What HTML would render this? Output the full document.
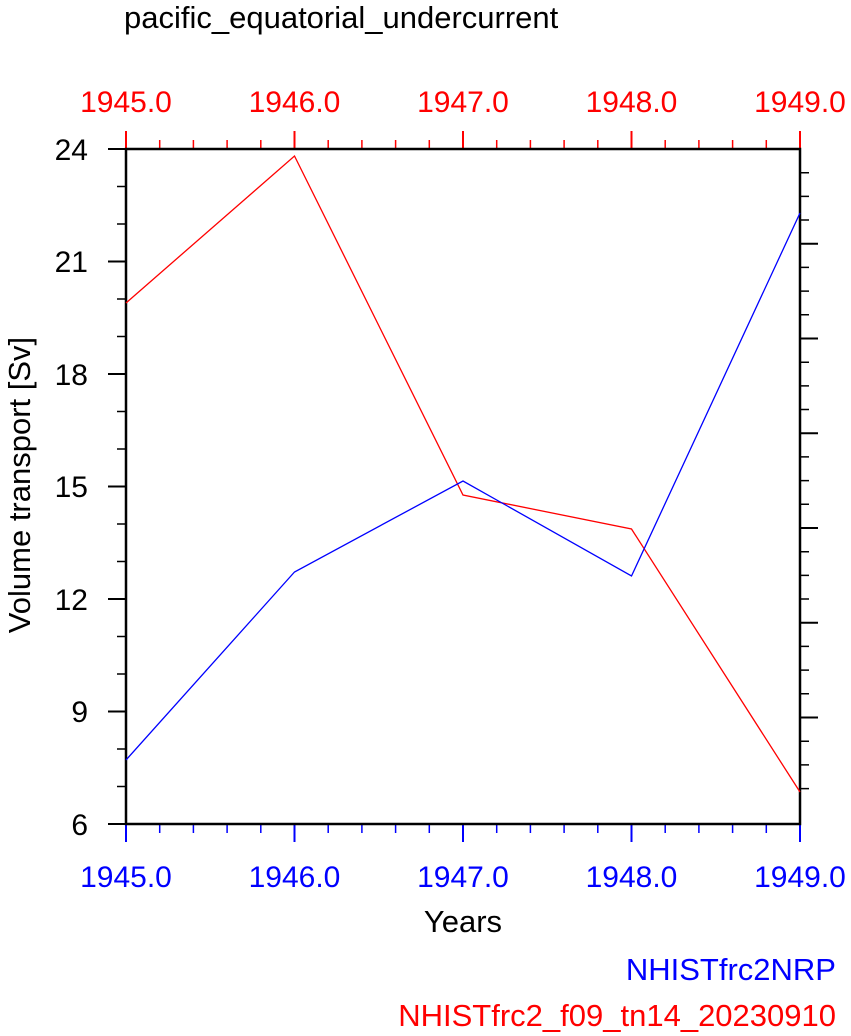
<!DOCTYPE html>
<html><head><meta charset="utf-8"><style>body{margin:0;background:#fff}svg{display:block}</style></head><body>
<svg width="851" height="1036" xmlns="http://www.w3.org/2000/svg" font-family="Liberation Sans, sans-serif">
<text x="124" y="28" font-size="31">pacific_equatorial_undercurrent</text>
<g stroke="#f00" stroke-width="2">
<line x1="126" y1="149" x2="126" y2="131"/><line x1="294.5" y1="149" x2="294.5" y2="131"/><line x1="463" y1="149" x2="463" y2="131"/><line x1="631.5" y1="149" x2="631.5" y2="131"/><line x1="800" y1="149" x2="800" y2="131"/>
</g>
<g stroke="#f00" stroke-width="1.5">
<path d="M159.7 149v-9M193.4 149v-9M227.1 149v-9M260.8 149v-9M328.2 149v-9M361.9 149v-9M395.6 149v-9M429.3 149v-9M496.7 149v-9M530.4 149v-9M564.1 149v-9M597.8 149v-9M665.2 149v-9M698.9 149v-9M732.6 149v-9M766.3 149v-9"/>
</g>
<g stroke="#00f" stroke-width="2">
<line x1="126" y1="824" x2="126" y2="842"/><line x1="294.5" y1="824" x2="294.5" y2="842"/><line x1="463" y1="824" x2="463" y2="842"/><line x1="631.5" y1="824" x2="631.5" y2="842"/><line x1="800" y1="824" x2="800" y2="842"/>
<path stroke-width="1.5" d="M159.7 824v9M193.4 824v9M227.1 824v9M260.8 824v9M328.2 824v9M361.9 824v9M395.6 824v9M429.3 824v9M496.7 824v9M530.4 824v9M564.1 824v9M597.8 824v9M665.2 824v9M698.9 824v9M732.6 824v9M766.3 824v9"/>
</g>
<g stroke="#000" stroke-width="2">
<path d="M108 149h18M108 261.5h18M108 374h18M108 486.5h18M108 599h18M108 711.5h18M108 824h18"/>
<path stroke-width="1.5" d="M117 186.5h9M117 224h9M117 299h9M117 336.5h9M117 411.5h9M117 449h9M117 524h9M117 561.5h9M117 636.5h9M117 674h9M117 749h9M117 786.5h9"/>
<path d="M800 243.7h18M800 338.5h18M800 433.2h18M800 528h18M800 622.7h18M800 717.5h18"/>
<path stroke-width="1.5" d="M800 172.7h9M800 196.4h9M800 220h9M800 267.4h9M800 291.1h9M800 314.8h9M800 362.2h9M800 385.9h9M800 409.5h9M800 456.9h9M800 480.6h9M800 504.3h9M800 551.7h9M800 575.4h9M800 599h9M800 646.4h9M800 670.1h9M800 693.8h9M800 741.2h9M800 764.9h9M800 788.6h9"/>
</g>
<rect x="126" y="149" width="674" height="675" fill="none" stroke="#000" stroke-width="2.5"/>
<polyline fill="none" stroke="#f00" stroke-width="1.3" points="126,303 294.5,156 463,495 631.5,529 800,792"/>
<polyline fill="none" stroke="#00f" stroke-width="1.3" points="126,760 294.5,572 463,481 631.5,576 800,213"/>
<g font-size="30" fill="#f00" text-anchor="middle">
<text x="126" y="112">1945.0</text><text x="294.5" y="112">1946.0</text><text x="463" y="112">1947.0</text><text x="631.5" y="112">1948.0</text><text x="800" y="112">1949.0</text>
</g>
<g font-size="30" fill="#00f" text-anchor="middle">
<text x="126" y="887">1945.0</text><text x="294.5" y="887">1946.0</text><text x="463" y="887">1947.0</text><text x="631.5" y="887">1948.0</text><text x="800" y="887">1949.0</text>
</g>
<g font-size="30" text-anchor="end">
<text x="88" y="160">24</text><text x="88" y="272">21</text><text x="88" y="385">18</text><text x="88" y="497">15</text><text x="88" y="610">12</text><text x="88" y="722">9</text><text x="88" y="835">6</text>
</g>
<text x="463" y="932" font-size="31" text-anchor="middle">Years</text>
<text transform="translate(30,485) rotate(-90)" font-size="31" text-anchor="middle">Volume transport [Sv]</text>
<text x="836" y="980" font-size="31" fill="#00f" text-anchor="end">NHISTfrc2NRP</text>
<text x="836" y="1026" font-size="31" fill="#f00" text-anchor="end">NHISTfrc2_f09_tn14_20230910</text>
</svg>
</body></html>
